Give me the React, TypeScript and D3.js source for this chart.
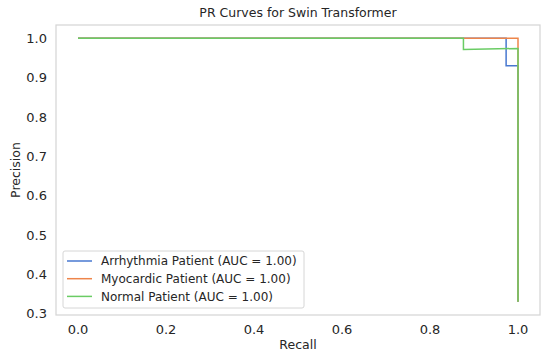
import React, { useEffect, useRef } from "react";
import * as d3 from "d3";

// PR curve points
const seriesNames = [
  "Arrhythmia Patient (AUC = 1.00)",
  "Myocardic Patient (AUC = 1.00)",
  "Normal Patient (AUC = 1.00)",
];
const seriesColors = ["#4878d0", "#ee854a", "#6acc64"];
const arrhythmiaRecall = [0.0, 0.973, 0.973, 1.0, 1.0];
const arrhythmiaPrecision = [1.0, 1.0, 0.93, 0.93, 0.33];
const myocardicRecall = [0.0, 1.0, 1.0];
const myocardicPrecision = [1.0, 1.0, 0.33];
const normalRecall = [0.0, 0.876, 0.876, 1.0, 1.0];
const normalPrecision = [1.0, 1.0, 0.971, 0.974, 0.33];
const xTicks = [0.0, 0.2, 0.4, 0.6, 0.8, 1.0];
const yTicks = [0.3, 0.4, 0.5, 0.6, 0.7, 0.8, 0.9, 1.0];

export default function App() {
  const svgRef = useRef<SVGSVGElement>(null);

  useEffect(() => {
    const W = 550, H = 359;
    const m = { left: 56, right: 10, top: 25, bottom: 44 };
    const svg = d3.select(svgRef.current);
    svg.selectAll("*").remove();
    svg.attr("width", W).attr("height", H);

    const font = "DejaVu Sans, sans-serif";
    const x = d3.scaleLinear().domain([-0.05, 1.05]).range([m.left, W - m.right]);
    const y = d3.scaleLinear().domain([0.2965, 1.0335]).range([H - m.bottom, m.top]);

    svg.append("rect").attr("width", W).attr("height", H).attr("fill", "#fff");

    const series = [
      { r: arrhythmiaRecall, p: arrhythmiaPrecision },
      { r: myocardicRecall, p: myocardicPrecision },
      { r: normalRecall, p: normalPrecision },
    ];
    const line = d3.line<[number, number]>().x((d) => x(d[0])).y((d) => y(d[1]));
    series.forEach((s, i) => {
      const pts = s.r.map((v, j) => [v, s.p[j]] as [number, number]);
      svg.append("path").attr("d", line(pts)).attr("fill", "none")
        .attr("stroke", seriesColors[i]).attr("stroke-width", 1.5);
    });

    // frame
    svg.append("rect")
      .attr("x", m.left).attr("y", m.top)
      .attr("width", W - m.left - m.right).attr("height", H - m.top - m.bottom)
      .attr("fill", "none").attr("stroke", "#d6d6d6").attr("stroke-width", 1.25);

    svg.append("g").selectAll("text").data(xTicks).join("text")
      .attr("x", (d) => x(d)).attr("y", H - m.bottom + 19)
      .attr("text-anchor", "middle").attr("font-family", font).attr("font-size", 13)
      .attr("fill", "#262626").text((d) => d.toFixed(1));

    svg.append("g").selectAll("text").data(yTicks).join("text")
      .attr("x", m.left - 9).attr("y", (d) => y(d)).attr("dy", "0.36em")
      .attr("text-anchor", "end").attr("font-family", font).attr("font-size", 13)
      .attr("fill", "#262626").text((d) => d.toFixed(1));

    svg.append("text").attr("x", (m.left + W - m.right) / 2).attr("y", 17)
      .attr("text-anchor", "middle").attr("font-family", font).attr("font-size", 12.5)
      .attr("fill", "#262626").text("PR Curves for Swin Transformer");

    svg.append("text").attr("x", (m.left + W - m.right) / 2).attr("y", 349)
      .attr("text-anchor", "middle").attr("font-family", font).attr("font-size", 12.5)
      .attr("fill", "#262626").text("Recall");

    svg.append("text")
      .attr("transform", `translate(20,${(m.top + H - m.bottom) / 2}) rotate(-90)`)
      .attr("text-anchor", "middle").attr("font-family", font).attr("font-size", 12.5)
      .attr("fill", "#262626").text("Precision");

    // legend
    const lg = svg.append("g").attr("transform", "translate(63,251)");
    lg.append("rect").attr("width", 241).attr("height", 57).attr("rx", 2)
      .attr("fill", "#fff").attr("fill-opacity", 0.8).attr("stroke", "#d6d6d6");
    seriesNames.forEach((name, i) => {
      const cy = 10 + i * 17.7;
      lg.append("line").attr("x1", 4).attr("x2", 29).attr("y1", cy).attr("y2", cy)
        .attr("stroke", seriesColors[i]).attr("stroke-width", 1.5);
      lg.append("text").attr("x", 38).attr("y", cy).attr("dy", "0.36em")
        .attr("font-family", font).attr("font-size", 12).attr("fill", "#262626").text(name);
    });
  }, []);

  return <svg ref={svgRef} style={{ position: "absolute", left: 0, top: 0 }} />;
}
